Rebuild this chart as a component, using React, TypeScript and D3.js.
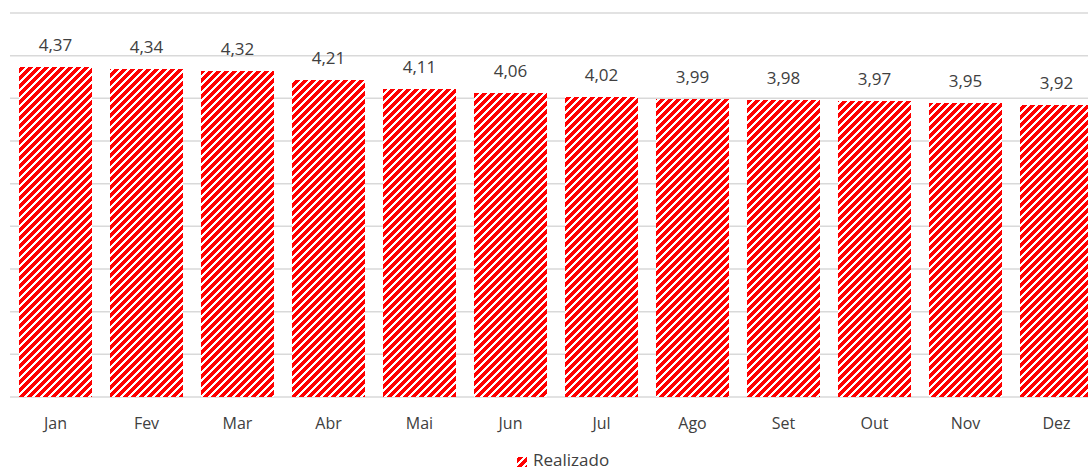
import React from "react";
import * as d3 from "d3";

const months = ["Jan", "Fev", "Mar", "Abr", "Mai", "Jun", "Jul", "Ago", "Set", "Out", "Nov", "Dez"];
const realizado = [4.37, 4.34, 4.32, 4.21, 4.11, 4.06, 4.02, 3.99, 3.98, 3.97, 3.95, 3.92];
const gridTicks = [0.5, 1.0, 1.5, 2.0, 2.5, 3.0, 3.5, 4.0, 4.5, 5.0];
const seriesName = "Realizado";

const W = 1088;
const H = 471;
const FONT = "'Open Sans', 'DejaVu Sans', sans-serif";
const TEXT = "#404040";
const RED = "#ff0000";

export default function App() {
  const x = d3.scaleBand<string>().domain(months).range([10, 1102]).paddingInner(0.2).paddingOuter(0.1);
  const y = d3.scaleLinear().domain([0.5, 5.0]).range([397, 13]);
  const fmt = (v: number) => v.toFixed(2).replace(".", ",");

  const patternPixels: { px: number; py: number }[] = [];
  for (let r = 0; r < 8; r++) {
    for (let k = 0; k < 5; k++) {
      patternPixels.push({ px: (7 - r + k + 8) % 8, py: r });
    }
  }

  return (
    <div style={{ position: "absolute", left: 0, top: 0 }}>
      <svg width={W} height={H} style={{ display: "block" }} fontFamily={FONT}>
        <defs>
          <pattern id="hatch" patternUnits="userSpaceOnUse" width={8} height={8}>
            <rect x={0} y={0} width={8} height={8} fill="#ffffff" />
            {patternPixels.map((p, i) => (
              <rect key={i} x={p.px} y={p.py} width={1} height={1} fill={RED} shapeRendering="crispEdges" />
            ))}
          </pattern>
        </defs>
        <rect x={0} y={0} width={W} height={H} fill="#ffffff" />
        {gridTicks.map((t) => (
          <line key={t} x1={10} x2={W} y1={y(t)} y2={y(t)} stroke="#d9d9d9" strokeWidth={1.5} />
        ))}
        {months.map((m, i) => {
          const bx = x(m)!;
          const by = y(realizado[i]);
          return (
            <g key={m}>
              <rect x={bx} y={by} width={x.bandwidth()} height={y(0.5) - by} fill="url(#hatch)" shapeRendering="crispEdges" />
              <text x={bx + x.bandwidth() / 2} y={by - 16} textAnchor="middle" fontSize={17} fill={TEXT}>
                {fmt(realizado[i])}
              </text>
              <text x={bx + x.bandwidth() / 2} y={429} textAnchor="middle" fontSize={16} fill={TEXT}>
                {m}
              </text>
            </g>
          );
        })}
        <g>
          <rect x={517} y={457} width={10} height={10} fill="url(#hatch)" shapeRendering="crispEdges" />
          <text x={533} y={466} fontSize={17} fill={TEXT}>
            {seriesName}
          </text>
        </g>
      </svg>
    </div>
  );
}
